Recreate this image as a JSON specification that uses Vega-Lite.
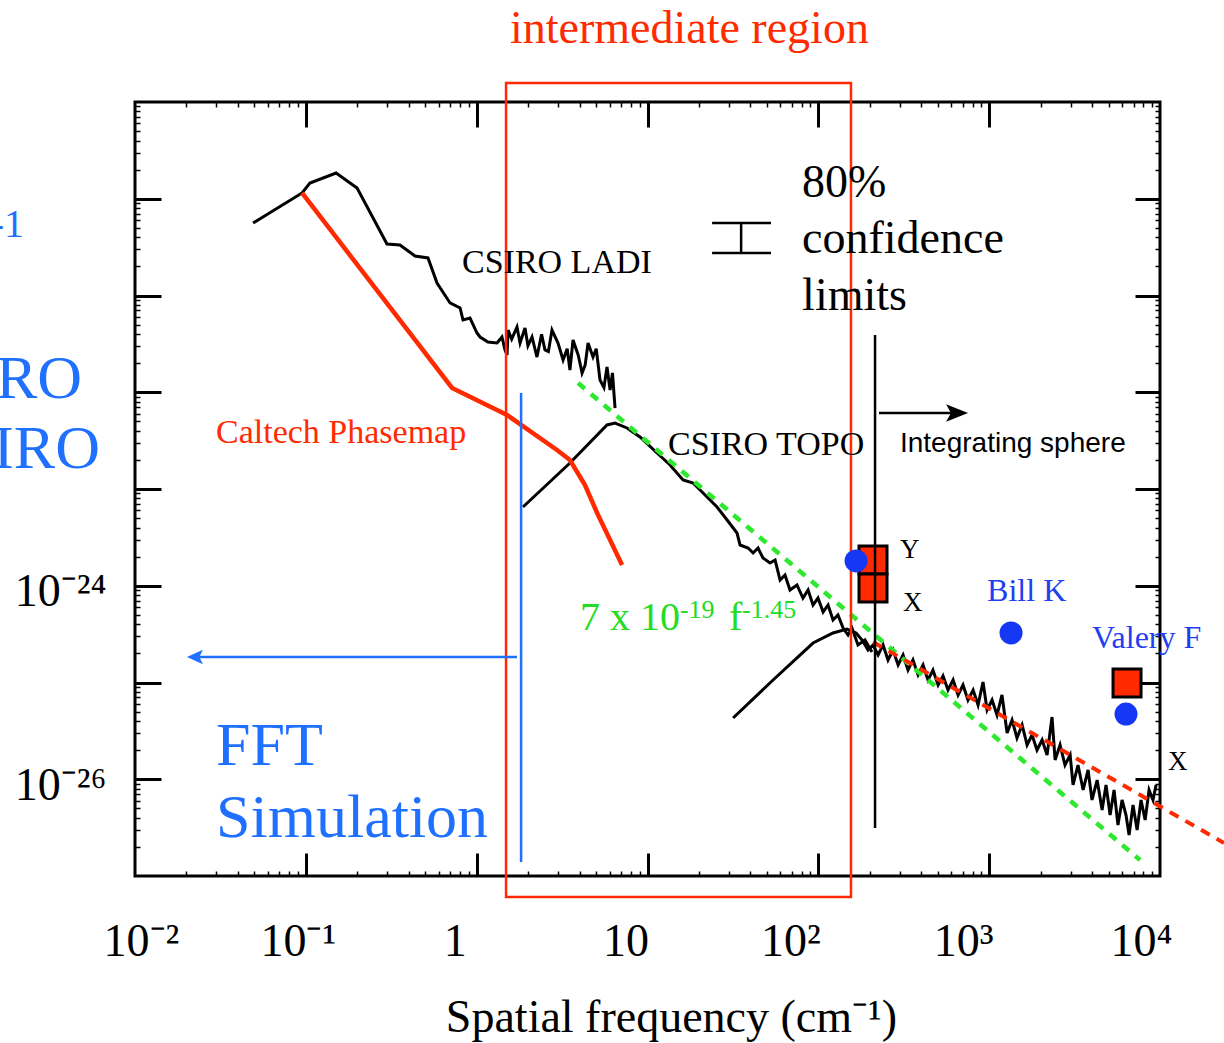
{
  "$schema": "https://vega.github.io/schema/vega-lite/v6.json",
  "width": 1025,
  "height": 774,
  "autosize": {"type": "none"},
  "padding": {"left": 135, "top": 102, "right": 64, "bottom": 167},
  "background": "white",
  "config": {
    "view": {"stroke": "black", "strokeWidth": 3},
    "axis": {"grid": false, "domain": false, "labelFont": "Liberation Serif", "labelColor": "black", "tickColor": "black", "titleFont": "Liberation Serif", "titleColor": "black"}
  },
  "resolve": {"axis": {"x": "independent", "y": "independent"}},
  "datasets": {
    "curves": [
      {"series": "CSIRO LADI", "log_f": -1.309, "log_psd": -20.251},
      {"series": "CSIRO LADI", "log_f": -1.022, "log_psd": -19.94},
      {"series": "CSIRO LADI", "log_f": -0.976, "log_psd": -19.837},
      {"series": "CSIRO LADI", "log_f": -0.823, "log_psd": -19.734},
      {"series": "CSIRO LADI", "log_f": -0.7, "log_psd": -19.889},
      {"series": "CSIRO LADI", "log_f": -0.525, "log_psd": -20.468},
      {"series": "CSIRO LADI", "log_f": -0.449, "log_psd": -20.478},
      {"series": "CSIRO LADI", "log_f": -0.361, "log_psd": -20.592},
      {"series": "CSIRO LADI", "log_f": -0.285, "log_psd": -20.612},
      {"series": "CSIRO LADI", "log_f": -0.232, "log_psd": -20.871},
      {"series": "CSIRO LADI", "log_f": -0.156, "log_psd": -21.077},
      {"series": "CSIRO LADI", "log_f": -0.097, "log_psd": -21.129},
      {"series": "CSIRO LADI", "log_f": -0.08, "log_psd": -21.253},
      {"series": "CSIRO LADI", "log_f": -0.039, "log_psd": -21.233},
      {"series": "CSIRO LADI", "log_f": 0.002, "log_psd": -21.388},
      {"series": "CSIRO LADI", "log_f": 0.02, "log_psd": -21.429},
      {"series": "CSIRO LADI", "log_f": 0.066, "log_psd": -21.481},
      {"series": "CSIRO LADI", "log_f": 0.119, "log_psd": -21.491},
      {"series": "CSIRO LADI", "log_f": 0.148, "log_psd": -21.429},
      {"series": "CSIRO LADI", "log_f": 0.166, "log_psd": -21.563},
      {"series": "CSIRO LADI", "log_f": 0.178, "log_psd": -21.615},
      {"series": "CSIRO LADI", "log_f": 0.184, "log_psd": -21.357},
      {"series": "CSIRO LADI", "log_f": 0.205, "log_psd": -21.45},
      {"series": "CSIRO LADI", "log_f": 0.236, "log_psd": -21.326},
      {"series": "CSIRO LADI", "log_f": 0.254, "log_psd": -21.491},
      {"series": "CSIRO LADI", "log_f": 0.283, "log_psd": -21.336},
      {"series": "CSIRO LADI", "log_f": 0.3, "log_psd": -21.52},
      {"series": "CSIRO LADI", "log_f": 0.324, "log_psd": -21.429},
      {"series": "CSIRO LADI", "log_f": 0.353, "log_psd": -21.636},
      {"series": "CSIRO LADI", "log_f": 0.38, "log_psd": -21.4},
      {"series": "CSIRO LADI", "log_f": 0.4, "log_psd": -21.563},
      {"series": "CSIRO LADI", "log_f": 0.42, "log_psd": -21.58},
      {"series": "CSIRO LADI", "log_f": 0.441, "log_psd": -21.357},
      {"series": "CSIRO LADI", "log_f": 0.476, "log_psd": -21.491},
      {"series": "CSIRO LADI", "log_f": 0.506, "log_psd": -21.667},
      {"series": "CSIRO LADI", "log_f": 0.53, "log_psd": -21.55},
      {"series": "CSIRO LADI", "log_f": 0.546, "log_psd": -21.77},
      {"series": "CSIRO LADI", "log_f": 0.564, "log_psd": -21.46},
      {"series": "CSIRO LADI", "log_f": 0.595, "log_psd": -21.62},
      {"series": "CSIRO LADI", "log_f": 0.617, "log_psd": -21.801},
      {"series": "CSIRO LADI", "log_f": 0.635, "log_psd": -21.72},
      {"series": "CSIRO LADI", "log_f": 0.652, "log_psd": -21.491},
      {"series": "CSIRO LADI", "log_f": 0.681, "log_psd": -21.636},
      {"series": "CSIRO LADI", "log_f": 0.7, "log_psd": -21.55},
      {"series": "CSIRO LADI", "log_f": 0.722, "log_psd": -21.873},
      {"series": "CSIRO LADI", "log_f": 0.745, "log_psd": -21.95},
      {"series": "CSIRO LADI", "log_f": 0.763, "log_psd": -21.739},
      {"series": "CSIRO LADI", "log_f": 0.781, "log_psd": -21.977},
      {"series": "CSIRO LADI", "log_f": 0.795, "log_psd": -21.8},
      {"series": "CSIRO LADI", "log_f": 0.81, "log_psd": -22.163},
      {"series": "CSIRO TOPO", "log_f": 0.271, "log_psd": -23.186},
      {"series": "CSIRO TOPO", "log_f": 0.546, "log_psd": -22.731},
      {"series": "CSIRO TOPO", "log_f": 0.763, "log_psd": -22.338},
      {"series": "CSIRO TOPO", "log_f": 0.81, "log_psd": -22.318},
      {"series": "CSIRO TOPO", "log_f": 0.88, "log_psd": -22.369},
      {"series": "CSIRO TOPO", "log_f": 0.956, "log_psd": -22.462},
      {"series": "CSIRO TOPO", "log_f": 1.056, "log_psd": -22.628},
      {"series": "CSIRO TOPO", "log_f": 1.132, "log_psd": -22.752},
      {"series": "CSIRO TOPO", "log_f": 1.208, "log_psd": -22.907},
      {"series": "CSIRO TOPO", "log_f": 1.267, "log_psd": -22.938},
      {"series": "CSIRO TOPO", "log_f": 1.337, "log_psd": -23.062},
      {"series": "CSIRO TOPO", "log_f": 1.407, "log_psd": -23.186},
      {"series": "CSIRO TOPO", "log_f": 1.466, "log_psd": -23.32},
      {"series": "CSIRO TOPO", "log_f": 1.524, "log_psd": -23.455},
      {"series": "CSIRO TOPO", "log_f": 1.542, "log_psd": -23.579},
      {"series": "CSIRO TOPO", "log_f": 1.589, "log_psd": -23.61},
      {"series": "CSIRO TOPO", "log_f": 1.618, "log_psd": -23.661},
      {"series": "CSIRO TOPO", "log_f": 1.647, "log_psd": -23.61},
      {"series": "CSIRO TOPO", "log_f": 1.676, "log_psd": -23.713},
      {"series": "CSIRO TOPO", "log_f": 1.717, "log_psd": -23.765},
      {"series": "CSIRO TOPO", "log_f": 1.747, "log_psd": -23.734},
      {"series": "CSIRO TOPO", "log_f": 1.776, "log_psd": -23.941},
      {"series": "CSIRO TOPO", "log_f": 1.805, "log_psd": -23.889},
      {"series": "CSIRO TOPO", "log_f": 1.834, "log_psd": -24.044},
      {"series": "CSIRO TOPO", "log_f": 1.875, "log_psd": -23.992},
      {"series": "CSIRO TOPO", "log_f": 1.91, "log_psd": -24.127},
      {"series": "CSIRO TOPO", "log_f": 1.94, "log_psd": -24.044},
      {"series": "CSIRO TOPO", "log_f": 1.969, "log_psd": -24.199},
      {"series": "CSIRO TOPO", "log_f": 1.998, "log_psd": -24.127},
      {"series": "CSIRO TOPO", "log_f": 2.028, "log_psd": -24.271},
      {"series": "CSIRO TOPO", "log_f": 2.057, "log_psd": -24.199},
      {"series": "CSIRO TOPO", "log_f": 2.086, "log_psd": -24.354},
      {"series": "CSIRO TOPO", "log_f": 2.115, "log_psd": -24.302},
      {"series": "CSIRO TOPO", "log_f": 2.145, "log_psd": -24.437},
      {"series": "CSIRO TOPO", "log_f": 2.174, "log_psd": -24.509},
      {"series": "CSIRO TOPO", "log_f": 2.197, "log_psd": -24.437},
      {"series": "CSIRO TOPO", "log_f": 2.232, "log_psd": -24.612},
      {"series": "CSIRO TOPO", "log_f": 2.273, "log_psd": -24.561},
      {"series": "CSIRO TOPO", "log_f": 2.314, "log_psd": -24.685},
      {"series": "Integrating sphere", "log_f": 1.501, "log_psd": -25.367},
      {"series": "Integrating sphere", "log_f": 1.735, "log_psd": -24.974},
      {"series": "Integrating sphere", "log_f": 1.969, "log_psd": -24.592},
      {"series": "Integrating sphere", "log_f": 2.086, "log_psd": -24.488},
      {"series": "Integrating sphere", "log_f": 2.168, "log_psd": -24.447},
      {"series": "Integrating sphere", "log_f": 2.221, "log_psd": -24.488},
      {"series": "Integrating sphere", "log_f": 2.256, "log_psd": -24.561},
      {"series": "Integrating sphere", "log_f": 2.291, "log_psd": -24.664},
      {"series": "Integrating sphere", "log_f": 2.32, "log_psd": -24.612},
      {"series": "Integrating sphere", "log_f": 2.35, "log_psd": -24.716},
      {"series": "Integrating sphere", "log_f": 2.379, "log_psd": -24.612},
      {"series": "Integrating sphere", "log_f": 2.408, "log_psd": -24.767},
      {"series": "Integrating sphere", "log_f": 2.437, "log_psd": -24.664},
      {"series": "Integrating sphere", "log_f": 2.467, "log_psd": -24.819},
      {"series": "Integrating sphere", "log_f": 2.496, "log_psd": -24.716},
      {"series": "Integrating sphere", "log_f": 2.525, "log_psd": -24.871},
      {"series": "Integrating sphere", "log_f": 2.554, "log_psd": -24.767},
      {"series": "Integrating sphere", "log_f": 2.584, "log_psd": -24.922},
      {"series": "Integrating sphere", "log_f": 2.613, "log_psd": -24.819},
      {"series": "Integrating sphere", "log_f": 2.642, "log_psd": -24.974},
      {"series": "Integrating sphere", "log_f": 2.671, "log_psd": -24.871},
      {"series": "Integrating sphere", "log_f": 2.701, "log_psd": -25.026},
      {"series": "Integrating sphere", "log_f": 2.73, "log_psd": -24.933},
      {"series": "Integrating sphere", "log_f": 2.759, "log_psd": -25.078},
      {"series": "Integrating sphere", "log_f": 2.789, "log_psd": -24.974},
      {"series": "Integrating sphere", "log_f": 2.818, "log_psd": -25.129},
      {"series": "Integrating sphere", "log_f": 2.847, "log_psd": -25.026},
      {"series": "Integrating sphere", "log_f": 2.876, "log_psd": -25.181},
      {"series": "Integrating sphere", "log_f": 2.906, "log_psd": -25.078},
      {"series": "Integrating sphere", "log_f": 2.935, "log_psd": -25.233},
      {"series": "Integrating sphere", "log_f": 2.964, "log_psd": -24.995},
      {"series": "Integrating sphere", "log_f": 2.988, "log_psd": -25.284},
      {"series": "Integrating sphere", "log_f": 3.017, "log_psd": -25.181},
      {"series": "Integrating sphere", "log_f": 3.046, "log_psd": -25.336},
      {"series": "Integrating sphere", "log_f": 3.075, "log_psd": -25.129},
      {"series": "Integrating sphere", "log_f": 3.105, "log_psd": -25.522},
      {"series": "Integrating sphere", "log_f": 3.134, "log_psd": -25.388},
      {"series": "Integrating sphere", "log_f": 3.163, "log_psd": -25.574},
      {"series": "Integrating sphere", "log_f": 3.193, "log_psd": -25.439},
      {"series": "Integrating sphere", "log_f": 3.222, "log_psd": -25.646},
      {"series": "Integrating sphere", "log_f": 3.251, "log_psd": -25.543},
      {"series": "Integrating sphere", "log_f": 3.28, "log_psd": -25.698},
      {"series": "Integrating sphere", "log_f": 3.31, "log_psd": -25.594},
      {"series": "Integrating sphere", "log_f": 3.339, "log_psd": -25.749},
      {"series": "Integrating sphere", "log_f": 3.368, "log_psd": -25.357},
      {"series": "Integrating sphere", "log_f": 3.386, "log_psd": -25.801},
      {"series": "Integrating sphere", "log_f": 3.415, "log_psd": -25.646},
      {"series": "Integrating sphere", "log_f": 3.444, "log_psd": -25.853},
      {"series": "Integrating sphere", "log_f": 3.474, "log_psd": -25.749},
      {"series": "Integrating sphere", "log_f": 3.491, "log_psd": -26.059},
      {"series": "Integrating sphere", "log_f": 3.52, "log_psd": -25.853},
      {"series": "Integrating sphere", "log_f": 3.55, "log_psd": -26.111},
      {"series": "Integrating sphere", "log_f": 3.579, "log_psd": -25.904},
      {"series": "Integrating sphere", "log_f": 3.602, "log_psd": -26.214},
      {"series": "Integrating sphere", "log_f": 3.632, "log_psd": -26.008},
      {"series": "Integrating sphere", "log_f": 3.661, "log_psd": -26.318},
      {"series": "Integrating sphere", "log_f": 3.684, "log_psd": -26.059},
      {"series": "Integrating sphere", "log_f": 3.708, "log_psd": -26.37},
      {"series": "Integrating sphere", "log_f": 3.731, "log_psd": -26.111},
      {"series": "Integrating sphere", "log_f": 3.754, "log_psd": -26.473},
      {"series": "Integrating sphere", "log_f": 3.778, "log_psd": -26.214},
      {"series": "Integrating sphere", "log_f": 3.801, "log_psd": -26.37},
      {"series": "Integrating sphere", "log_f": 3.819, "log_psd": -26.576},
      {"series": "Integrating sphere", "log_f": 3.842, "log_psd": -26.266},
      {"series": "Integrating sphere", "log_f": 3.866, "log_psd": -26.525},
      {"series": "Integrating sphere", "log_f": 3.889, "log_psd": -26.214},
      {"series": "Integrating sphere", "log_f": 3.913, "log_psd": -26.421},
      {"series": "Integrating sphere", "log_f": 3.936, "log_psd": -26.111},
      {"series": "Integrating sphere", "log_f": 3.959, "log_psd": -26.214},
      {"series": "Integrating sphere", "log_f": 3.977, "log_psd": -26.059}
    ],
    "caltech": [
      {"log_f": -1.022, "log_psd": -19.94},
      {"log_f": -0.144, "log_psd": -21.956},
      {"log_f": 0.178, "log_psd": -22.235},
      {"log_f": 0.47, "log_psd": -22.597},
      {"log_f": 0.546, "log_psd": -22.7},
      {"log_f": 0.634, "log_psd": -22.959},
      {"log_f": 0.705, "log_psd": -23.248},
      {"log_f": 0.781, "log_psd": -23.527},
      {"log_f": 0.851, "log_psd": -23.786}
    ],
    "fit_green": [
      {"log_f": 0.593, "log_psd": -21.904},
      {"log_f": 3.883, "log_psd": -26.835}
    ],
    "fit_red": [
      {"log_f": 2.32, "log_psd": -24.581},
      {"log_f": 4.375, "log_psd": -26.659}
    ],
    "vrules": [
      {"group": "measurement", "log_f": 2.332, "log_psd": -21.408, "log_psd2": -26.504},
      {"group": "fft", "log_f": 0.26, "log_psd": -22.008, "log_psd2": -26.855},
      {"group": "measurement", "log_f": 1.548, "log_psd": -20.251, "log_psd2": -20.561}
    ],
    "hrules": [
      {"group": "measurement", "log_f": 2.355, "log_f2": 2.85, "log_psd": -22.214},
      {"group": "fft", "log_f": 0.236, "log_f2": -1.64, "log_psd": -24.736},
      {"group": "measurement", "log_f": 1.378, "log_f2": 1.723, "log_psd": -20.251},
      {"group": "measurement", "log_f": 1.378, "log_f2": 1.723, "log_psd": -20.561}
    ],
    "region": [
      {"log_f": 0.172, "log_f2": 2.191, "log_psd": -18.804, "log_psd2": -27.217}
    ],
    "squares": [
      {"log_f": 2.32, "log_psd": -23.734},
      {"log_f": 2.32, "log_psd": -24.023},
      {"log_f": 3.807, "log_psd": -25.005}
    ],
    "circles": [
      {"log_f": 2.221, "log_psd": -23.744},
      {"log_f": 3.128, "log_psd": -24.488},
      {"log_f": 3.801, "log_psd": -25.326}
    ]
  },
  "layer": [
    {
      "data": {"name": "curves"},
      "mark": {"type": "line", "color": "black", "strokeWidth": 3},
      "encoding": {
        "x": {"field": "log_f", "type": "quantitative", "scale": {"domain": [-2, 4], "nice": false, "zero": false},
          "axis": {"orient": "bottom", "values": [-2, -1, 0, 1, 2, 3, 4], "ticks": false,
            "labelExpr": "datum.value == -2 ? '10⁻²' : datum.value == -1 ? '10⁻¹' : datum.value == 0 ? '1' : datum.value == 1 ? '10' : datum.value == 2 ? '10²' : datum.value == 3 ? '10³' : '10⁴'",
            "labelFontSize": 46, "labelPadding": 79, "labelBaseline": "alphabetic", "labelFlush": false, "labelOverlap": false, "labelBound": false,
            "labelOffset": {"condition": [{"test": "datum.value == -2", "value": 6}, {"test": "datum.value == -1", "value": -8}, {"test": "datum.value == 2", "value": -28}, {"test": "datum.value == 3", "value": -26}, {"test": "datum.value == 4", "value": -19}], "value": -22},
            "title": "Spatial frequency (cm⁻¹)", "titleFontSize": 46, "titleFontWeight": "normal", "titleX": 536, "titleY": 155, "titleAlign": "center", "titleBaseline": "alphabetic"}},
        "y": {"field": "log_psd", "type": "quantitative", "scale": {"domain": [-27, -19], "nice": false, "zero": false},
          "axis": {"orient": "left", "values": [-26, -24], "ticks": false,
            "labelExpr": "datum.value == -24 ? '10⁻²⁴' : '10⁻²⁶'",
            "labelFontSize": 46, "labelPadding": 29, "labelAlign": "right", "labelBaseline": "alphabetic", "labelOffset": 20, "labelFlush": false, "labelOverlap": false, "labelBound": false, "title": null}},
        "detail": {"field": "series"}
      }
    },
    {
      "data": {"name": "caltech"},
      "mark": {"type": "line", "color": "#ff2a00", "strokeWidth": 4.5},
      "encoding": {
        "x": {"field": "log_f", "type": "quantitative", "scale": {"domain": [-2, 4], "nice": false, "zero": false},
          "axis": {"orient": "bottom", "values": [-1, 0, 1, 2, 3], "labels": false, "tickSize": -23, "tickWidth": 3, "title": null}},
        "y": {"field": "log_psd", "type": "quantitative", "scale": {"domain": [-27, -19], "nice": false, "zero": false},
          "axis": {"orient": "left", "values": [-26, -25, -24, -23, -22, -21, -20], "labels": false, "tickSize": -26, "tickWidth": 3, "title": null}}
      }
    },
    {
      "data": {"name": "fit_green"},
      "mark": {"type": "line", "color": "#2ee82e", "strokeWidth": 4.5, "strokeDash": [9, 8]},
      "encoding": {
        "x": {"field": "log_f", "type": "quantitative", "scale": {"domain": [-2, 4], "nice": false, "zero": false},
          "axis": {"orient": "top", "values": [-1, 0, 1, 2, 3], "labels": false, "tickSize": -25, "tickWidth": 3, "title": null}},
        "y": {"field": "log_psd", "type": "quantitative", "scale": {"domain": [-27, -19], "nice": false, "zero": false},
          "axis": {"orient": "right", "values": [-26, -25, -24, -23, -22, -21, -20], "labels": false, "tickSize": -25, "tickWidth": 3, "title": null}}
      }
    },
    {
      "data": {"name": "fit_red"},
      "mark": {"type": "line", "color": "#ff2a00", "strokeWidth": 4, "strokeDash": [10, 8]},
      "encoding": {
        "x": {"field": "log_f", "type": "quantitative", "scale": {"domain": [-2, 4], "nice": false, "zero": false},
          "axis": {"orient": "bottom", "labels": false, "tickSize": -5, "tickWidth": 1.5, "title": null,
            "values": [-1.699, -1.523, -1.398, -1.301, -1.222, -1.155, -1.097, -1.046, -0.699, -0.523, -0.398, -0.301, -0.222, -0.155, -0.097, -0.046, 0.301, 0.477, 0.602, 0.699, 0.778, 0.845, 0.903, 0.954, 1.301, 1.477, 1.602, 1.699, 1.778, 1.845, 1.903, 1.954, 2.301, 2.477, 2.602, 2.699, 2.778, 2.845, 2.903, 2.954, 3.301, 3.477, 3.602, 3.699, 3.778, 3.845, 3.903, 3.954]}},
        "y": {"field": "log_psd", "type": "quantitative", "scale": {"domain": [-27, -19], "nice": false, "zero": false},
          "axis": {"orient": "left", "labels": false, "tickSize": -5, "tickWidth": 1.5, "title": null,
            "values": [-26.699, -26.523, -26.398, -26.301, -26.222, -26.155, -26.097, -26.046, -25.699, -25.523, -25.398, -25.301, -25.222, -25.155, -25.097, -25.046, -24.699, -24.523, -24.398, -24.301, -24.222, -24.155, -24.097, -24.046, -23.699, -23.523, -23.398, -23.301, -23.222, -23.155, -23.097, -23.046, -22.699, -22.523, -22.398, -22.301, -22.222, -22.155, -22.097, -22.046, -21.699, -21.523, -21.398, -21.301, -21.222, -21.155, -21.097, -21.046, -20.699, -20.523, -20.398, -20.301, -20.222, -20.155, -20.097, -20.046, -19.699, -19.523, -19.398, -19.301, -19.222, -19.155, -19.097, -19.046]}}
      }
    },
    {
      "data": {"name": "region"},
      "mark": {"type": "rect", "filled": false, "color": "#ff2a00", "strokeWidth": 2.5},
      "encoding": {
        "x": {"field": "log_f", "type": "quantitative", "scale": {"domain": [-2, 4], "nice": false, "zero": false}, "axis": null},
        "x2": {"field": "log_f2"},
        "y": {"field": "log_psd", "type": "quantitative", "scale": {"domain": [-27, -19], "nice": false, "zero": false}, "axis": null},
        "y2": {"field": "log_psd2"}
      }
    },
    {
      "data": {"name": "hrules"},
      "mark": {"type": "rule", "strokeWidth": 2.5},
      "encoding": {
        "x": {"field": "log_f", "type": "quantitative", "scale": {"domain": [-2, 4], "nice": false, "zero": false}, "axis": null},
        "x2": {"field": "log_f2"},
        "y": {"field": "log_psd", "type": "quantitative", "scale": {"domain": [-27, -19], "nice": false, "zero": false}, "axis": null},
        "color": {"field": "group", "type": "nominal", "scale": {"domain": ["measurement", "fft"], "range": ["black", "#1f70ff"]}, "legend": null}
      }
    },
    {
      "data": {"name": "squares"},
      "mark": {"type": "point", "shape": "square", "filled": true, "fill": "#ff2a00", "stroke": "black", "strokeWidth": 3, "size": 784, "opacity": 1},
      "encoding": {
        "x": {"field": "log_f", "type": "quantitative", "scale": {"domain": [-2, 4], "nice": false, "zero": false}, "axis": null},
        "y": {"field": "log_psd", "type": "quantitative", "scale": {"domain": [-27, -19], "nice": false, "zero": false}, "axis": null}
      }
    },
    {
      "data": {"name": "vrules"},
      "mark": {"type": "rule", "strokeWidth": 2.5},
      "encoding": {
        "x": {"field": "log_f", "type": "quantitative", "scale": {"domain": [-2, 4], "nice": false, "zero": false},
          "axis": {"orient": "top", "labels": false, "tickSize": -5, "tickWidth": 1.5, "title": null,
            "values": [-1.699, -1.523, -1.398, -1.301, -1.222, -1.155, -1.097, -1.046, -0.699, -0.523, -0.398, -0.301, -0.222, -0.155, -0.097, -0.046, 0.301, 0.477, 0.602, 0.699, 0.778, 0.845, 0.903, 0.954, 1.301, 1.477, 1.602, 1.699, 1.778, 1.845, 1.903, 1.954, 2.301, 2.477, 2.602, 2.699, 2.778, 2.845, 2.903, 2.954, 3.301, 3.477, 3.602, 3.699, 3.778, 3.845, 3.903, 3.954]}},
        "y": {"field": "log_psd", "type": "quantitative", "scale": {"domain": [-27, -19], "nice": false, "zero": false},
          "axis": {"orient": "right", "labels": false, "tickSize": -5, "tickWidth": 1.5, "title": null,
            "values": [-26.699, -26.523, -26.398, -26.301, -26.222, -26.155, -26.097, -26.046, -25.699, -25.523, -25.398, -25.301, -25.222, -25.155, -25.097, -25.046, -24.699, -24.523, -24.398, -24.301, -24.222, -24.155, -24.097, -24.046, -23.699, -23.523, -23.398, -23.301, -23.222, -23.155, -23.097, -23.046, -22.699, -22.523, -22.398, -22.301, -22.222, -22.155, -22.097, -22.046, -21.699, -21.523, -21.398, -21.301, -21.222, -21.155, -21.097, -21.046, -20.699, -20.523, -20.398, -20.301, -20.222, -20.155, -20.097, -20.046, -19.699, -19.523, -19.398, -19.301, -19.222, -19.155, -19.097, -19.046]}},
        "y2": {"field": "log_psd2"},
        "color": {"field": "group", "type": "nominal", "scale": {"domain": ["measurement", "fft"], "range": ["black", "#1f70ff"]}, "legend": null}
      }
    },
    {
      "data": {"name": "circles"},
      "mark": {"type": "circle", "color": "#1538f5", "size": 530, "opacity": 1},
      "encoding": {
        "x": {"field": "log_f", "type": "quantitative", "scale": {"domain": [-2, 4], "nice": false, "zero": false}, "axis": null},
        "y": {"field": "log_psd", "type": "quantitative", "scale": {"domain": [-27, -19], "nice": false, "zero": false}, "axis": null}
      }
    },
    {
      "data": {"values": [{"log_f": 2.812, "log_psd": -22.214}]},
      "mark": {"type": "point", "shape": "M1,0L-1,-0.8L-0.55,0L-1,0.8Z", "filled": true, "color": "black", "size": 484, "opacity": 1},
      "encoding": {
        "x": {"field": "log_f", "type": "quantitative", "scale": {"domain": [-2, 4], "nice": false, "zero": false}, "axis": null},
        "y": {"field": "log_psd", "type": "quantitative", "scale": {"domain": [-27, -19], "nice": false, "zero": false}, "axis": null}
      }
    },
    {
      "data": {"values": [{"log_f": -1.649, "log_psd": -24.736}]},
      "mark": {"type": "point", "shape": "M-1,0L1,-0.9L0.55,0L1,0.9Z", "filled": true, "color": "#1f70ff", "size": 256, "opacity": 1},
      "encoding": {
        "x": {"field": "log_f", "type": "quantitative", "scale": {"domain": [-2, 4], "nice": false, "zero": false}, "axis": null},
        "y": {"field": "log_psd", "type": "quantitative", "scale": {"domain": [-27, -19], "nice": false, "zero": false}, "axis": null}
      }
    },
    {
      "data": {"values": [{"text": "CSIRO LADI", "log_f": -0.086, "log_psd": -20.767}, {"text": "CSIRO TOPO", "log_f": 1.12, "log_psd": -22.649}]},
      "mark": {"type": "text", "font": "Liberation Serif", "fontSize": 34, "align": "left", "baseline": "alphabetic", "color": "black"},
      "encoding": {
        "x": {"field": "log_f", "type": "quantitative", "scale": {"domain": [-2, 4], "nice": false, "zero": false}, "axis": null},
        "y": {"field": "log_psd", "type": "quantitative", "scale": {"domain": [-27, -19], "nice": false, "zero": false}, "axis": null},
        "text": {"field": "text"}
      }
    },
    {
      "data": {"values": [{"text": "Caltech Phasemap", "log_f": -1.526, "log_psd": -22.525}]},
      "mark": {"type": "text", "font": "Liberation Serif", "fontSize": 34, "align": "left", "baseline": "alphabetic", "color": "#ff2a00"},
      "encoding": {
        "x": {"field": "log_f", "type": "quantitative", "scale": {"domain": [-2, 4], "nice": false, "zero": false}, "axis": null},
        "y": {"field": "log_psd", "type": "quantitative", "scale": {"domain": [-27, -19], "nice": false, "zero": false}, "axis": null},
        "text": {"field": "text"}
      }
    },
    {
      "data": {"values": [{"text": "80%", "log_f": 1.905, "log_psd": -19.982}, {"text": "confidence", "log_f": 1.905, "log_psd": -20.561}, {"text": "limits", "log_f": 1.905, "log_psd": -21.15}]},
      "mark": {"type": "text", "font": "Liberation Serif", "fontSize": 46, "align": "left", "baseline": "alphabetic", "color": "black"},
      "encoding": {
        "x": {"field": "log_f", "type": "quantitative", "scale": {"domain": [-2, 4], "nice": false, "zero": false}, "axis": null},
        "y": {"field": "log_psd", "type": "quantitative", "scale": {"domain": [-27, -19], "nice": false, "zero": false}, "axis": null},
        "text": {"field": "text"}
      }
    },
    {
      "data": {"values": [{"text": "Y", "log_f": 2.478, "log_psd": -23.713}, {"text": "X", "log_f": 2.496, "log_psd": -24.261}, {"text": "X", "log_f": 4.047, "log_psd": -25.904}]},
      "mark": {"type": "text", "font": "Liberation Serif", "fontSize": 27, "align": "left", "baseline": "alphabetic", "color": "black"},
      "encoding": {
        "x": {"field": "log_f", "type": "quantitative", "scale": {"domain": [-2, 4], "nice": false, "zero": false}, "axis": null},
        "y": {"field": "log_psd", "type": "quantitative", "scale": {"domain": [-27, -19], "nice": false, "zero": false}, "axis": null},
        "text": {"field": "text"}
      }
    },
    {
      "data": {"values": [{"text": "Bill K", "log_f": 2.988, "log_psd": -24.158}, {"text": "Valery F", "log_f": 3.602, "log_psd": -24.643}]},
      "mark": {"type": "text", "font": "Liberation Serif", "fontSize": 32, "align": "left", "baseline": "alphabetic", "color": "#1f3ff0"},
      "encoding": {
        "x": {"field": "log_f", "type": "quantitative", "scale": {"domain": [-2, 4], "nice": false, "zero": false}, "axis": null},
        "y": {"field": "log_psd", "type": "quantitative", "scale": {"domain": [-27, -19], "nice": false, "zero": false}, "axis": null},
        "text": {"field": "text"}
      }
    },
    {
      "data": {"values": [{"text": "FFT", "log_f": -1.526, "log_psd": -25.853}, {"text": "Simulation", "log_f": -1.526, "log_psd": -26.597}]},
      "mark": {"type": "text", "font": "Liberation Serif", "fontSize": 62, "align": "left", "baseline": "alphabetic", "color": "#1f70ff"},
      "encoding": {
        "x": {"field": "log_f", "type": "quantitative", "scale": {"domain": [-2, 4], "nice": false, "zero": false}, "axis": null},
        "y": {"field": "log_psd", "type": "quantitative", "scale": {"domain": [-27, -19], "nice": false, "zero": false}, "axis": null},
        "text": {"field": "text"}
      }
    },
    {
      "data": {"values": [{"text": "intermediate region", "log_f": 0.195, "log_psd": -18.39}]},
      "mark": {"type": "text", "font": "Liberation Serif", "fontSize": 46, "align": "left", "baseline": "alphabetic", "color": "#ff2a00"},
      "encoding": {
        "x": {"field": "log_f", "type": "quantitative", "scale": {"domain": [-2, 4], "nice": false, "zero": false}, "axis": null},
        "y": {"field": "log_psd", "type": "quantitative", "scale": {"domain": [-27, -19], "nice": false, "zero": false}, "axis": null},
        "text": {"field": "text"}
      }
    },
    {
      "data": {"values": [{"text": "RO", "log_f": -2.31, "log_psd": -22.059}, {"text": "IRO", "log_f": -2.205, "log_psd": -22.783}]},
      "mark": {"type": "text", "font": "Liberation Serif", "fontSize": 62, "align": "right", "baseline": "alphabetic", "color": "#1f70ff"},
      "encoding": {
        "x": {"field": "log_f", "type": "quantitative", "scale": {"domain": [-2, 4], "nice": false, "zero": false}, "axis": null},
        "y": {"field": "log_psd", "type": "quantitative", "scale": {"domain": [-27, -19], "nice": false, "zero": false}, "axis": null},
        "text": {"field": "text"}
      }
    },
    {
      "data": {"values": [{"text": "-1", "log_f": -2.65, "log_psd": -20.395}]},
      "mark": {"type": "text", "font": "Liberation Serif", "fontSize": 40, "align": "right", "baseline": "alphabetic", "color": "#1f70ff"},
      "encoding": {
        "x": {"field": "log_f", "type": "quantitative", "scale": {"domain": [-2, 4], "nice": false, "zero": false}, "axis": null},
        "y": {"field": "log_psd", "type": "quantitative", "scale": {"domain": [-27, -19], "nice": false, "zero": false}, "axis": null},
        "text": {"field": "text"}
      }
    },
    {
      "data": {"values": [{"text": "Integrating sphere", "log_f": 2.478, "log_psd": -22.618}]},
      "mark": {"type": "text", "font": "Liberation Sans", "fontSize": 28, "align": "left", "baseline": "alphabetic", "color": "black"},
      "encoding": {
        "x": {"field": "log_f", "type": "quantitative", "scale": {"domain": [-2, 4], "nice": false, "zero": false}, "axis": null},
        "y": {"field": "log_psd", "type": "quantitative", "scale": {"domain": [-27, -19], "nice": false, "zero": false}, "axis": null},
        "text": {"field": "text"}
      }
    },
    {
      "data": {"values": [{"text": "7 x 10", "log_f": 0.605, "log_psd": -24.457}, {"text": "f", "log_f": 1.477, "log_psd": -24.457}]},
      "mark": {"type": "text", "font": "Liberation Serif", "fontSize": 40, "align": "left", "baseline": "alphabetic", "color": "#22dd22"},
      "encoding": {
        "x": {"field": "log_f", "type": "quantitative", "scale": {"domain": [-2, 4], "nice": false, "zero": false}, "axis": null},
        "y": {"field": "log_psd", "type": "quantitative", "scale": {"domain": [-27, -19], "nice": false, "zero": false}, "axis": null},
        "text": {"field": "text"}
      }
    },
    {
      "data": {"values": [{"text": "-19", "log_f": 1.19, "log_psd": -24.333}, {"text": "-1.45", "log_f": 1.553, "log_psd": -24.333}]},
      "mark": {"type": "text", "font": "Liberation Serif", "fontSize": 26, "align": "left", "baseline": "alphabetic", "color": "#22dd22"},
      "encoding": {
        "x": {"field": "log_f", "type": "quantitative", "scale": {"domain": [-2, 4], "nice": false, "zero": false}, "axis": null},
        "y": {"field": "log_psd", "type": "quantitative", "scale": {"domain": [-27, -19], "nice": false, "zero": false}, "axis": null},
        "text": {"field": "text"}
      }
    }
  ]
}
